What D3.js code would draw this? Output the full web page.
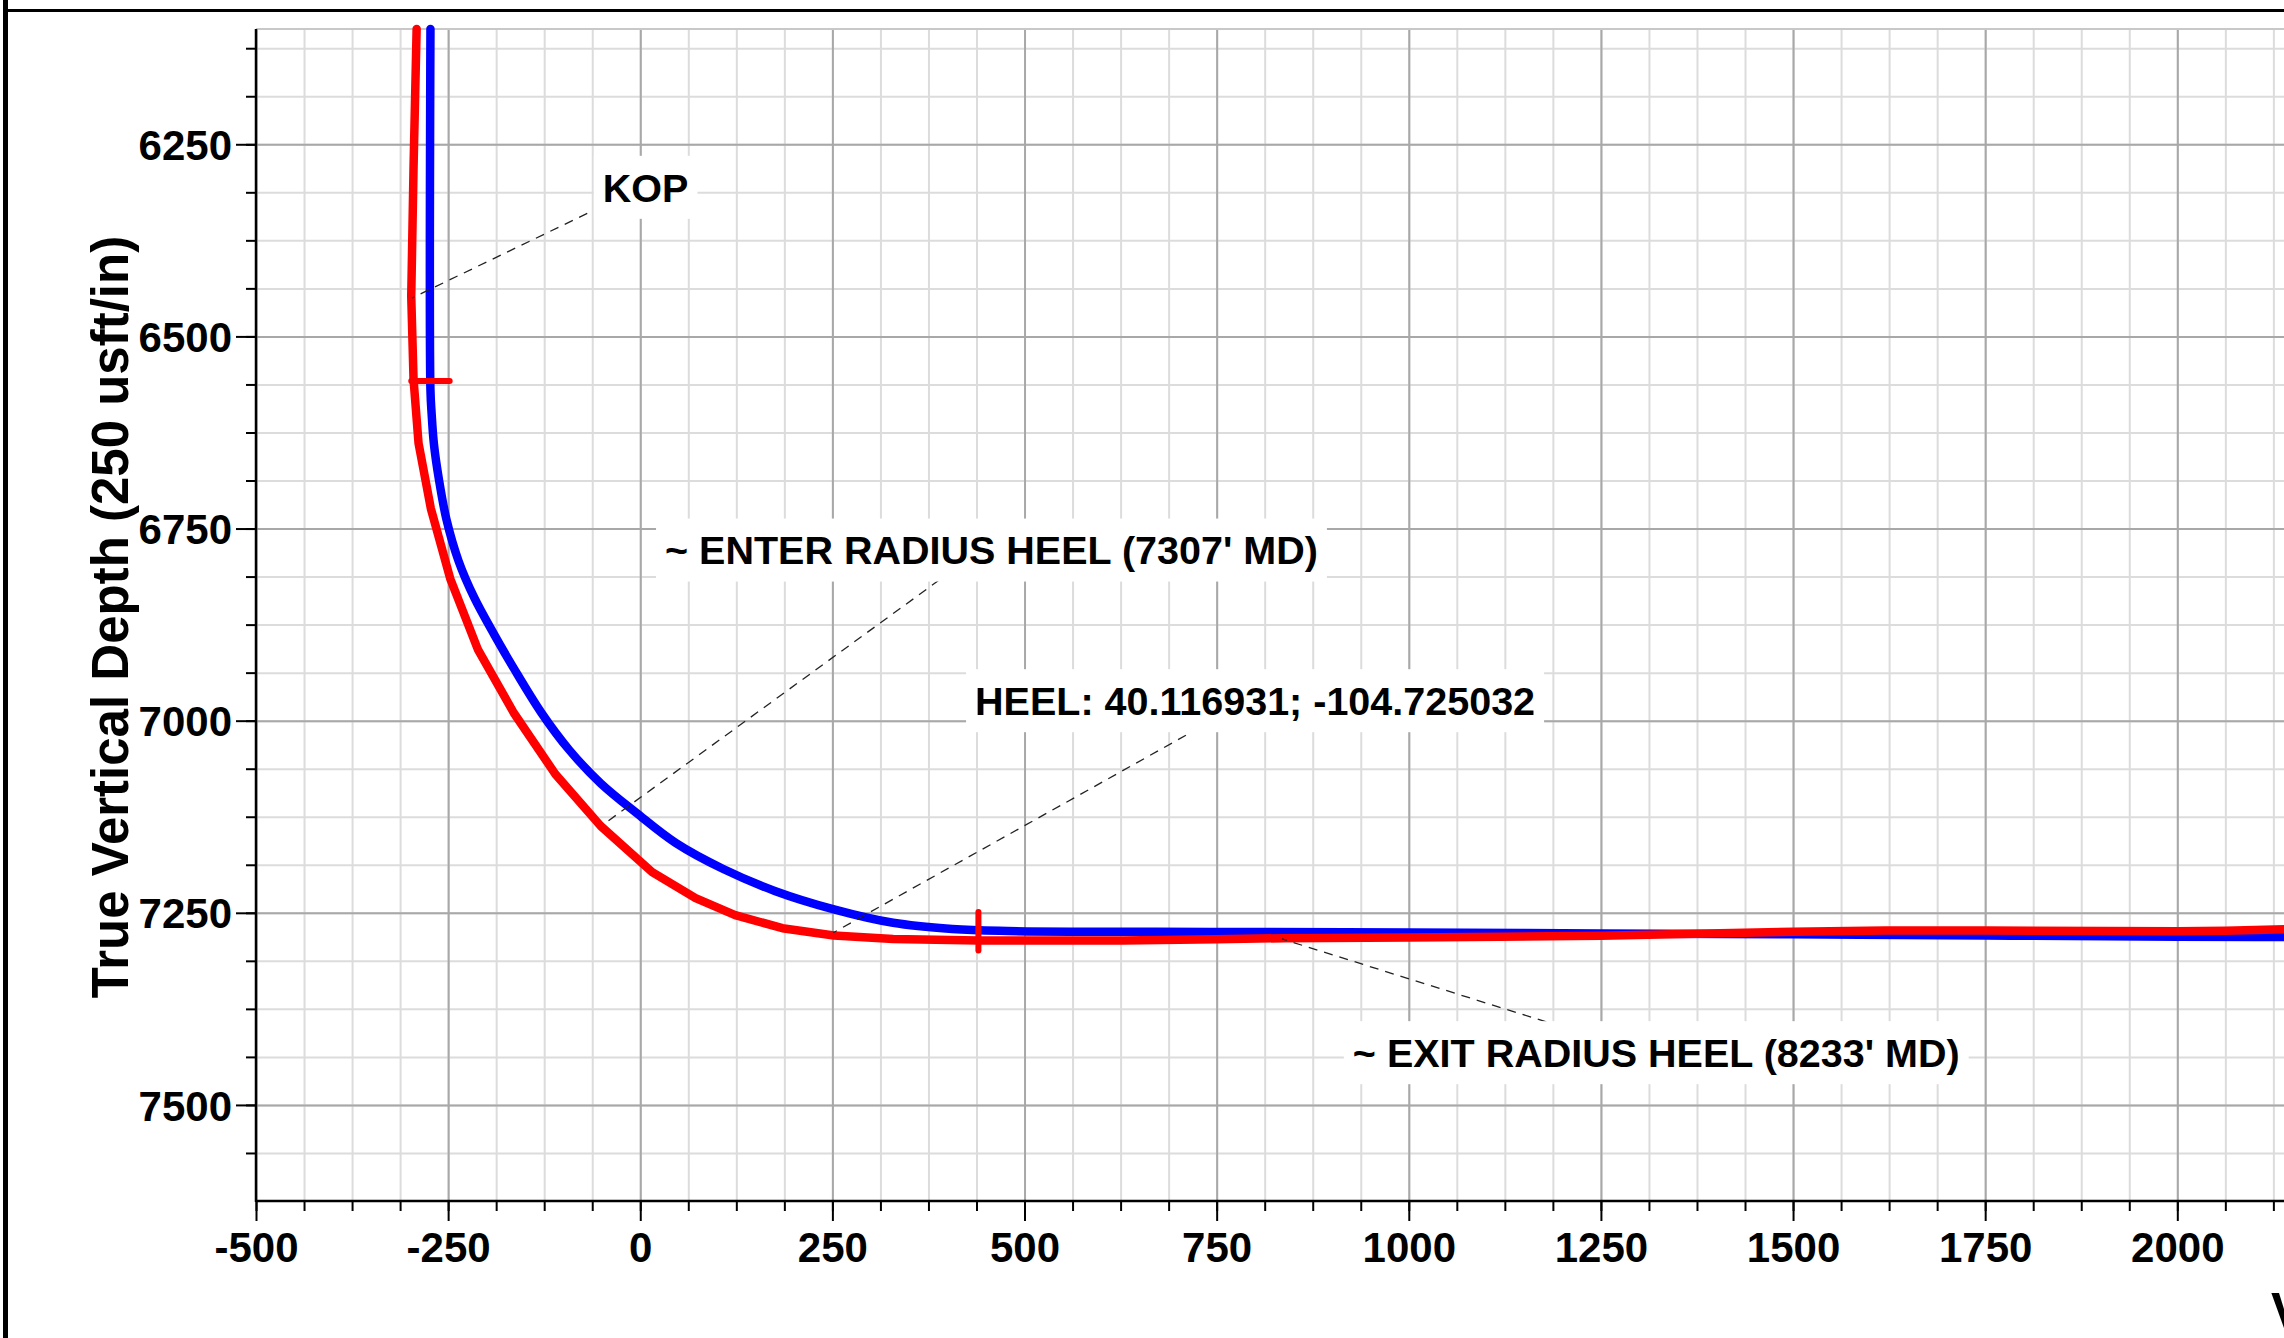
<!DOCTYPE html>
<html>
<head>
<meta charset="utf-8">
<script src="https://cdn.jsdelivr.net/npm/d3@7"></script>
<style>
  body { margin: 0; background: #fff; }
  svg { display: block; }
  text { font-family: "Liberation Sans", Arial, sans-serif; font-weight: bold; fill: #000; }
</style>
</head>
<body>
<script>
// blue well path (vertical section / TVD, usft)
var blueVS  = [-273, -273, -271.5, -268.5, -262, -252, -236.5, -216, -190, -164.5, -128.5, -92.5, -51.5, -5, 46, 108, 175, 252, 329, 406, 467, 750, 1000, 1250, 1500, 1750, 2000, 2250];
var blueTVD = [6100, 6570, 6600, 6640, 6686, 6739, 6792, 6840, 6888, 6932, 6990, 7038, 7081.5, 7120, 7159, 7193, 7221.5, 7245.5, 7263, 7271, 7273.5, 7275, 7275.5, 7277, 7278, 7279.5, 7281, 7282];

// red well path
var redVS  = [-291, -295, -298, -295, -288.5, -272.5, -247, -211, -164.5, -110.5, -51.5, 15.5, 72, 123.5, 185, 252, 329, 440, 628, 750, 837, 1000, 1118, 1250, 1405, 1500, 1620, 1750, 2000, 2063, 2140, 2250];
var redTVD = [6100, 6280, 6448, 6556, 6639, 6724, 6816, 6908, 6990, 7069.5, 7137, 7197, 7231, 7253, 7270, 7279.5, 7284, 7286, 7286, 7284.5, 7283, 7282, 7281, 7280, 7276.5, 7274.5, 7273, 7273, 7274, 7273.5, 7271.5, 7270];

// red tick marks on the path
var markVS  = [-273, 440];
var markTVD = [6558, 7274];
var markDir = ["h", "v"];

// tick labels
var xTicks = [-500, -250, 0, 250, 500, 750, 1000, 1250, 1500, 1750, 2000];
var yTicks = [6250, 6500, 6750, 7000, 7250, 7500];

// annotations: label centre, leader start, leader target (data units)
var noteText = ["KOP", "~ ENTER RADIUS HEEL (7307' MD)", "HEEL: 40.116931; -104.725032", "~ EXIT RADIUS HEEL (8233' MD)"];
var noteVS   = [7, 457, 800, 1322];
var noteTVD  = [6306, 6778, 6974, 7432];
var fromVS   = [-69, 389, 710, 1179];
var fromTVD  = [6340, 6817, 7019, 7392];
var toVS     = [-297, -48, 251, 835];
var toTVD    = [6450, 7135, 7276, 7284];

var W = 2284, H = 1338;
var plotL = 256, plotT = 29, plotB = 1201;
var unit = (plotB - plotT) / (7625 - 6100); // same scale both ways

var x = d3.scaleLinear().domain([-500, 2250]).range([plotL, plotL + 2750 * unit]);
var y = d3.scaleLinear().domain([6100, 7625]).range([plotT, plotB]);

var svg = d3.select("body").append("svg")
    .attr("width", W)
    .attr("height", H);

svg.append("rect").attr("width", W).attr("height", H).attr("fill", "#fff");

// grid
var xMinor = d3.range(-500, 2251, 62.5),
    yMinor = d3.range(6125, 7625, 62.5);
var xMajor = d3.range(-500, 2251, 250);

function grid(g, color) {
  g.select(".domain").remove();
  g.selectAll(".tick line").attr("stroke", color).attr("stroke-width", 2);
}

svg.append("g")
    .attr("transform", "translate(0," + plotB + ")")
    .call(d3.axisBottom(x).tickValues(xMinor).tickSize(-(plotB - plotT)).tickFormat(""))
    .call(grid, "#dcdcdc");
svg.append("g")
    .attr("transform", "translate(" + plotL + ",0)")
    .call(d3.axisLeft(y).tickValues(yMinor).tickSize(-(W - plotL)).tickFormat(""))
    .call(grid, "#dcdcdc");
svg.append("g")
    .attr("transform", "translate(0," + plotB + ")")
    .call(d3.axisBottom(x).tickValues(xMajor).tickSize(-(plotB - plotT)).tickFormat(""))
    .call(grid, "#a8a8a8");
svg.append("g")
    .attr("transform", "translate(" + plotL + ",0)")
    .call(d3.axisLeft(y).tickValues(yTicks).tickSize(-(W - plotL)).tickFormat(""))
    .call(grid, "#a8a8a8");

// plot top edge
svg.append("line")
    .attr("x1", plotL).attr("x2", W)
    .attr("y1", plotT).attr("y2", plotT)
    .attr("stroke", "#c8c8c8").attr("stroke-width", 2);

// axes: minor ticks, then major ticks with labels
var plain = function(d) { return String(d); }; // keep ascii hyphen

function axisStyle(g) {
  g.select(".domain").remove();
  g.selectAll(".tick line").attr("stroke", "#000").attr("stroke-width", 2);
  g.selectAll(".tick text").attr("font-size", 42).attr("fill", "#000");
}

svg.append("g")
    .attr("transform", "translate(0," + plotB + ")")
    .call(d3.axisBottom(x).tickValues(xMinor).tickSize(10).tickFormat(""))
    .call(axisStyle);
svg.append("g")
    .attr("transform", "translate(0," + plotB + ")")
    .call(d3.axisBottom(x).tickValues(xTicks).tickSize(20).tickPadding(11).tickFormat(plain))
    .call(axisStyle);
svg.append("g")
    .attr("transform", "translate(" + plotL + ",0)")
    .call(d3.axisLeft(y).tickValues(yMinor).tickSize(10).tickFormat(""))
    .call(axisStyle);
svg.append("g")
    .attr("transform", "translate(" + plotL + ",0)")
    .call(d3.axisLeft(y).tickValues(yTicks).tickSize(20).tickPadding(4).tickFormat(plain))
    .call(axisStyle)
    .selectAll(".tick text").attr("dy", "0.36em");

// axis lines
svg.append("line")
    .attr("x1", plotL).attr("x2", plotL)
    .attr("y1", plotT).attr("y2", plotB + 1)
    .attr("stroke", "#000").attr("stroke-width", 2.5);
svg.append("line")
    .attr("x1", plotL).attr("x2", W)
    .attr("y1", plotB).attr("y2", plotB)
    .attr("stroke", "#000").attr("stroke-width", 2.5);

// axis titles
svg.append("text")
    .attr("transform", "translate(128,617) rotate(-90)")
    .attr("text-anchor", "middle")
    .attr("font-size", 51)
    .text("True Vertical Depth (250 usft/in)");
svg.append("text")
    .attr("x", 2271).attr("y", 1329)
    .attr("font-size", 51)
    .text("Vertical Section (250 usft/in)");

// well paths
var blue = blueVS.map(function(d, i) { return [d, blueTVD[i]]; });
var red = redVS.map(function(d, i) { return [d, redTVD[i]]; });

var blueLine = d3.line()
    .x(function(d) { return x(d[0]); })
    .y(function(d) { return y(d[1]); })
    .curve(d3.curveCatmullRom.alpha(0.5));
var redLine = d3.line()
    .x(function(d) { return x(d[0]); })
    .y(function(d) { return y(d[1]); });

svg.append("path")
    .attr("d", blueLine(blue))
    .attr("fill", "none")
    .attr("stroke", "#0000ff")
    .attr("stroke-width", 8.5)
    .attr("stroke-linecap", "round")
    .attr("stroke-linejoin", "round");
svg.append("path")
    .attr("d", redLine(red))
    .attr("fill", "none")
    .attr("stroke", "#ff0000")
    .attr("stroke-width", 8.5)
    .attr("stroke-linecap", "round")
    .attr("stroke-linejoin", "round");

// red tick marks, 25 usft each side
svg.selectAll(".mark")
    .data(markVS)
  .enter().append("line")
    .attr("class", "mark")
    .attr("x1", function(d, i) { return x(markDir[i] == "h" ? d - 25 : d); })
    .attr("x2", function(d, i) { return x(markDir[i] == "h" ? d + 25 : d); })
    .attr("y1", function(d, i) { return y(markDir[i] == "v" ? markTVD[i] - 25 : markTVD[i]); })
    .attr("y2", function(d, i) { return y(markDir[i] == "v" ? markTVD[i] + 25 : markTVD[i]); })
    .attr("stroke", "#ff0000")
    .attr("stroke-width", 6)
    .attr("stroke-linecap", "round");

// leaders
svg.selectAll(".leader")
    .data(noteText)
  .enter().append("line")
    .attr("class", "leader")
    .attr("x1", function(d, i) { return x(fromVS[i]); })
    .attr("y1", function(d, i) { return y(fromTVD[i]); })
    .attr("x2", function(d, i) { return x(toVS[i]); })
    .attr("y2", function(d, i) { return y(toTVD[i]); })
    .attr("stroke", "#222")
    .attr("stroke-width", 1.3)
    .attr("stroke-dasharray", "9,7");

// labels on white boxes
var notes = svg.selectAll(".note")
    .data(noteText)
  .enter().append("g")
    .attr("class", "note")
    .attr("transform", function(d, i) { return "translate(" + x(noteVS[i]) + "," + y(noteTVD[i]) + ")"; });

var box = notes.append("rect")
    .attr("fill", "#fff");

var label = notes.append("text")
    .attr("text-anchor", "middle")
    .attr("font-size", 39.5)
    .attr("dy", "0.36em")
    .text(function(d) { return d; });

box.each(function(d, i) {
  var w = label.nodes()[i].getComputedTextLength();
  d3.select(this)
      .attr("x", -w / 2 - 9)
      .attr("y", -31.5)
      .attr("width", w + 18)
      .attr("height", 63);
});

// page frame
svg.append("line")
    .attr("x1", 3).attr("x2", W)
    .attr("y1", 10.5).attr("y2", 10.5)
    .attr("stroke", "#000").attr("stroke-width", 3);
svg.append("line")
    .attr("x1", 5.5).attr("x2", 5.5)
    .attr("y1", 0).attr("y2", H)
    .attr("stroke", "#000").attr("stroke-width", 5);
</script>
</body>
</html>
